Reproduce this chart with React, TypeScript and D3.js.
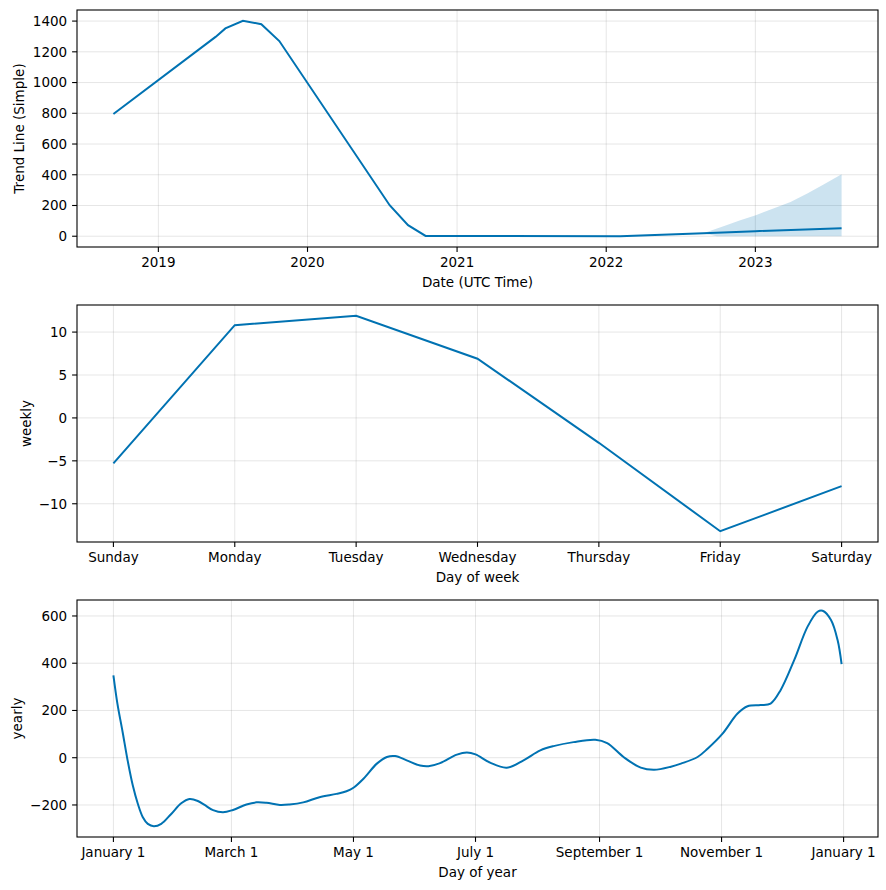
import React from "react";
import * as d3 from "d3";

// ---------- Data ----------
const trendDates = ["2018-09-13", "2019-05-21", "2019-06-14", "2019-07-27", "2019-09-10", "2019-10-24", "2020-07-20", "2020-09-03", "2020-10-16", "2022-02-04", "2022-08-27", "2023-01-01", "2023-07-31"];
const trendValues = [795, 1297, 1352, 1402, 1380, 1270, 202, 72, 2, 0, 19, 33, 52];

const bandDates = ["2018-09-13", "2022-08-27", "2022-09-13", "2022-09-29", "2022-10-15", "2022-11-25", "2023-01-02", "2023-02-14", "2023-03-28", "2023-05-08", "2023-06-18", "2023-07-31"];
const bandUpper = [795, 19, 35, 50, 65, 104, 137, 180, 223, 278, 339, 404];
const bandLower = [795, 19, 10, 0, 0, 0, 0, 0, 0, 0, 0, 0];

const trendTickYears = ["2019-01-01", "2020-01-01", "2021-01-01", "2022-01-01", "2023-01-01"];
const trendTicksY = [0, 200, 400, 600, 800, 1000, 1200, 1400];

const weekDays = ["Sunday", "Monday", "Tuesday", "Wednesday", "Thursday", "Friday", "Saturday"];
const weeklyValues = [-5.3, 10.8, 11.9, 6.9, -2.9, -13.2, -7.95];
const weeklyTicksY = [-10, -5, 0, 5, 10];

const yearlyDays = [0, 2, 4.6, 7.1, 9.7, 12.2, 14.7, 17.2, 20.2, 23.9, 28.9, 33.9, 38, 42.2, 45.6, 49.8, 54.8, 59.8, 66.5, 71.5, 76.5, 83.2, 88, 94.9, 103, 111.5, 116.5, 120, 125, 131.7, 136.7, 140.8, 146.6, 153.3, 157.5, 163.3, 171.7, 176.7, 181, 188.3, 196.6, 205, 213.4, 220, 230, 240.9, 246.8, 255, 263.6, 270.3, 278.7, 283.7, 292, 297, 304.5, 312, 317, 323.5, 328.5, 333.5, 340.3, 347, 352, 354.5, 358.7, 362, 364];
const yearlyValues = [349, 229, 109, -11, -118, -195, -252, -280, -290, -280, -238, -193, -175, -183, -200, -222, -231, -221, -198, -189, -191, -200, -198, -189, -167, -153, -142, -127, -89, -25, 3, 7, -11, -33, -36, -23, 13, 22, 14, -21, -42, -11, 31, 49, 66, 76, 62, 3, -42, -51, -38, -25, 3, 38, 102, 187, 218, 223, 229, 286, 413, 555, 618, 622, 583, 498, 396];
const yearlyTickDays = [0, 59, 120, 181, 243, 304, 365];
const yearlyTickLabels = ["January 1", "March 1", "May 1", "July 1", "September 1", "November 1", "January 1"];
const yearlyTicksY = [-200, 0, 200, 400, 600];

// ---------- Layout ----------
const W = 886;
const H = 890;
const LEFT = 77;
const RIGHT = 878;
const PH = 237;
const TOPS = [10, 305, 600];
const FONT = "DejaVu Sans, sans-serif";
const FS = 13.5;
const BLUE = "#0072B2";
const GRID = "rgba(128,128,128,0.2)";

const fmt = (v: number) => (v < 0 ? "\u2212" + Math.abs(v) : String(v));

function pad(ext: [number, number]): [number, number] {
  const s = (ext[1] - ext[0]) * 0.05;
  return [ext[0] - s, ext[1] + s];
}

type Tick = { pos: number; label: string };

function Frame(props: {
  top: number;
  xTicks: Tick[];
  yTicks: Tick[];
  xLabel: string;
  yLabel: string;
  yLabelX: number;
  children?: React.ReactNode;
}) {
  const { top, xTicks, yTicks, xLabel, yLabel, yLabelX } = props;
  const bottom = top + PH;
  return (
    <g>
      {xTicks.map((t, i) => (
        <line key={"gx" + i} x1={t.pos} x2={t.pos} y1={top} y2={bottom} stroke={GRID} strokeWidth={1} />
      ))}
      {yTicks.map((t, i) => (
        <line key={"gy" + i} x1={LEFT} x2={RIGHT} y1={t.pos} y2={t.pos} stroke={GRID} strokeWidth={1} />
      ))}
      {props.children}
      <rect x={LEFT} y={top} width={RIGHT - LEFT} height={PH} fill="none" stroke="black" strokeWidth={1.1} />
      {xTicks.map((t, i) => (
        <g key={"tx" + i}>
          <line x1={t.pos} x2={t.pos} y1={bottom} y2={bottom + 4.9} stroke="black" strokeWidth={1.1} />
          <text x={t.pos} y={bottom + 19.5} textAnchor="middle" fontSize={FS} fontFamily={FONT} fill="black">
            {t.label}
          </text>
        </g>
      ))}
      {yTicks.map((t, i) => (
        <g key={"ty" + i}>
          <line x1={LEFT - 4.9} x2={LEFT} y1={t.pos} y2={t.pos} stroke="black" strokeWidth={1.1} />
          <text x={LEFT - 9.8} y={t.pos + 4.9} textAnchor="end" fontSize={FS} fontFamily={FONT} fill="black">
            {t.label}
          </text>
        </g>
      ))}
      <text x={(LEFT + RIGHT) / 2} y={bottom + 39.7} textAnchor="middle" fontSize={FS} fontFamily={FONT} fill="black">
        {xLabel}
      </text>
      <text
        transform={`translate(${yLabelX},${top + PH / 2}) rotate(-90)`}
        textAnchor="middle"
        dominantBaseline="central"
        fontSize={FS}
        fontFamily={FONT}
        fill="black"
      >
        {yLabel}
      </text>
    </g>
  );
}

export default function App() {
  const parse = d3.utcParse("%Y-%m-%d");

  // Trend panel
  const tDates = trendDates.map((d) => parse(d) as Date);
  const tx = d3
    .scaleUtc()
    .domain(pad([+tDates[0], +tDates[tDates.length - 1]]).map((v) => new Date(v)))
    .range([LEFT, RIGHT]);
  const tyExt: [number, number] = [Math.min(d3.min(trendValues)!, d3.min(bandLower)!), Math.max(d3.max(trendValues)!, d3.max(bandUpper)!)];
  const ty = d3.scaleLinear().domain(pad(tyExt)).range([TOPS[0] + PH, TOPS[0]]);
  const trendLine = d3
    .line<number>()
    .x((_, i) => tx(tDates[i]))
    .y((v) => ty(v))(trendValues);
  const bDates = bandDates.map((d) => parse(d) as Date);
  const bandArea = d3
    .area<number>()
    .x((_, i) => tx(bDates[i]))
    .y0((_, i) => ty(bandLower[i]))
    .y1((v) => ty(v))(bandUpper);

  // Weekly panel
  const wx = d3.scaleLinear().domain(pad([0, weekDays.length - 1])).range([LEFT, RIGHT]);
  const wy = d3
    .scaleLinear()
    .domain(pad([d3.min(weeklyValues)!, d3.max(weeklyValues)!]))
    .range([TOPS[1] + PH, TOPS[1]]);
  const weeklyLine = d3
    .line<number>()
    .x((_, i) => wx(i))
    .y((v) => wy(v))(weeklyValues);

  // Yearly panel
  const yx = d3
    .scaleLinear()
    .domain(pad([yearlyDays[0], yearlyDays[yearlyDays.length - 1]]))
    .range([LEFT, RIGHT]);
  const yy = d3
    .scaleLinear()
    .domain(pad([d3.min(yearlyValues)!, d3.max(yearlyValues)!]))
    .range([TOPS[2] + PH, TOPS[2]]);
  const yearlyLine = d3
    .line<number>()
    .x((_, i) => yx(yearlyDays[i]))
    .y((v) => yy(v))
    .curve(d3.curveCatmullRom.alpha(0.5))(yearlyValues);

  return (
    <svg width={W} height={H} style={{ display: "block", position: "absolute", left: 0, top: 0 }}>
      <rect x={0} y={0} width={W} height={H} fill="white" />
      <Frame
        top={TOPS[0]}
        xTicks={trendTickYears.map((d) => ({ pos: tx(parse(d) as Date), label: d.slice(0, 4) }))}
        yTicks={trendTicksY.map((v) => ({ pos: ty(v), label: fmt(v) }))}
        xLabel="Date (UTC Time)"
        yLabel="Trend Line (Simple)"
        yLabelX={19}
      >
        <path d={bandArea!} fill={BLUE} fillOpacity={0.2} stroke="none" />
        <path d={trendLine!} fill="none" stroke={BLUE} strokeWidth={2} />
      </Frame>
      <Frame
        top={TOPS[1]}
        xTicks={weekDays.map((d, i) => ({ pos: wx(i), label: d }))}
        yTicks={weeklyTicksY.map((v) => ({ pos: wy(v), label: fmt(v) }))}
        xLabel="Day of week"
        yLabel="weekly"
        yLabelX={26}
      >
        <path d={weeklyLine!} fill="none" stroke={BLUE} strokeWidth={2} />
      </Frame>
      <Frame
        top={TOPS[2]}
        xTicks={yearlyTickDays.map((d, i) => ({ pos: yx(d), label: yearlyTickLabels[i] }))}
        yTicks={yearlyTicksY.map((v) => ({ pos: yy(v), label: fmt(v) }))}
        xLabel="Day of year"
        yLabel="yearly"
        yLabelX={17}
      >
        <path d={yearlyLine!} fill="none" stroke={BLUE} strokeWidth={2} />
      </Frame>
    </svg>
  );
}
